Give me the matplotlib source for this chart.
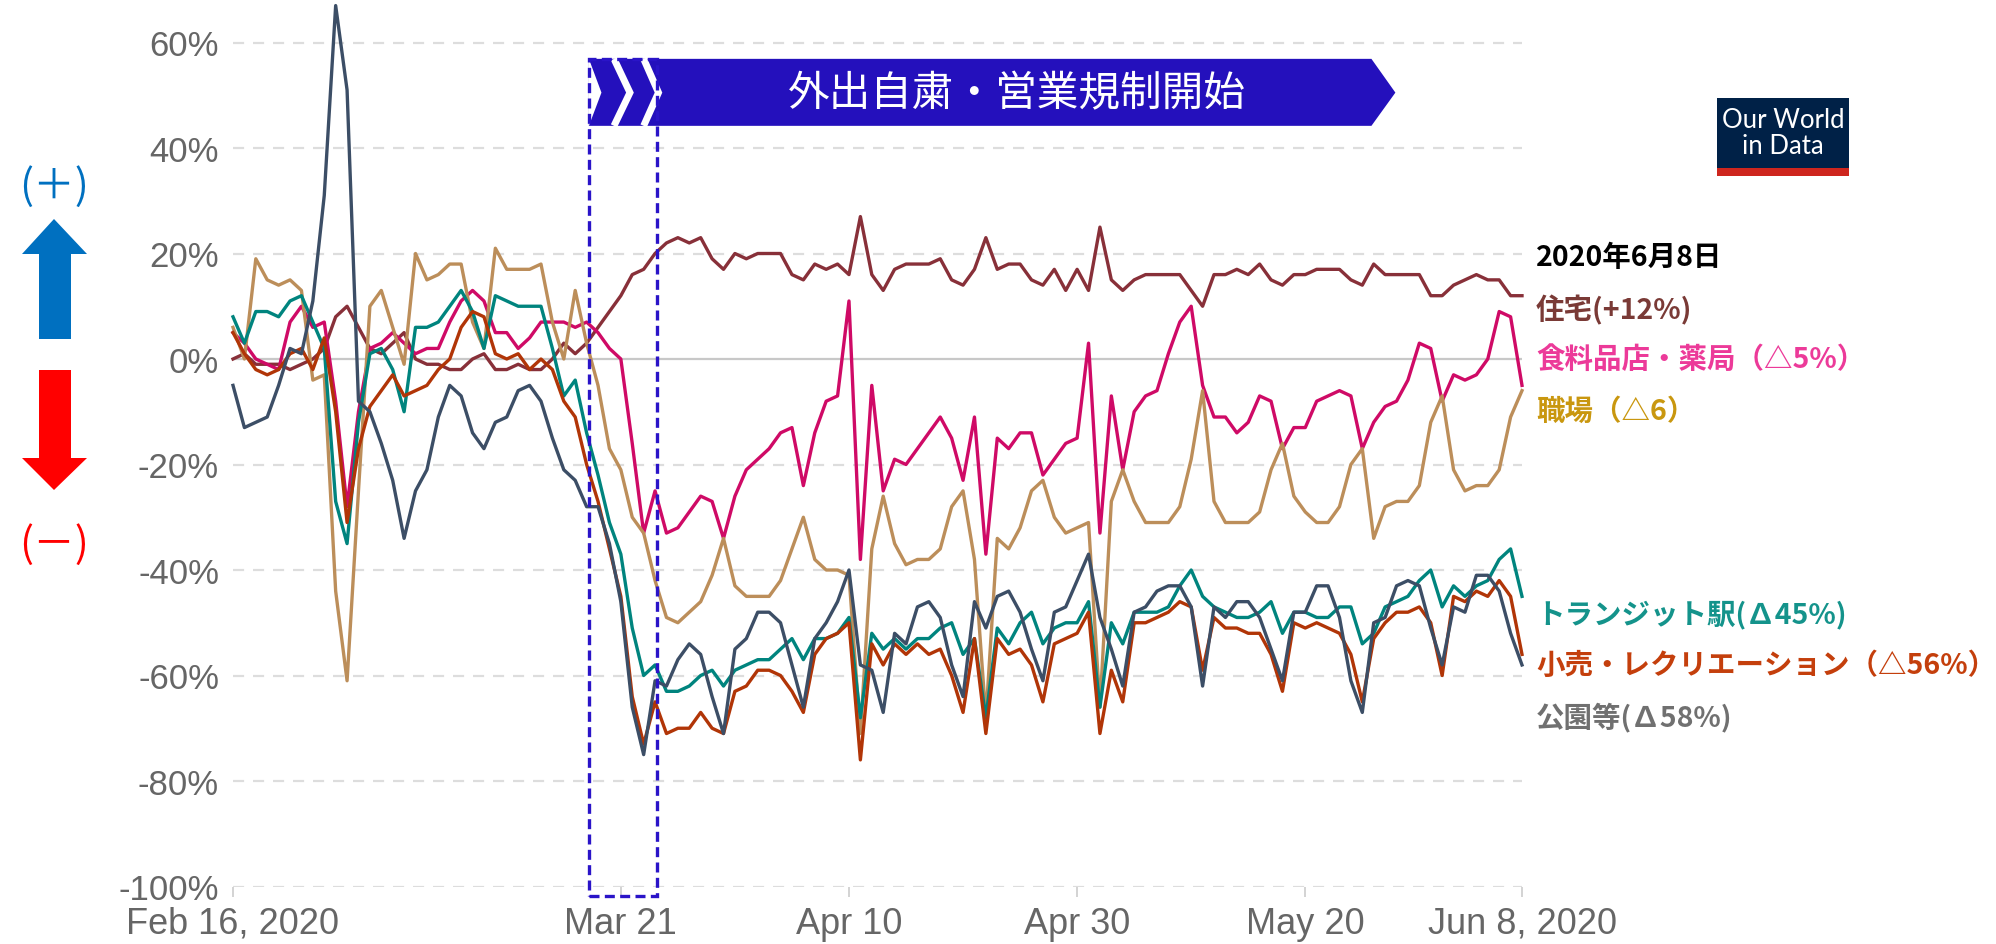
import numpy as np
import pandas as pd
import matplotlib
matplotlib.use('Agg')
import matplotlib.pyplot as plt
import matplotlib.dates as mdates
from matplotlib.patches import Polygon, Rectangle

plt.rcParams['font.family'] = ['Liberation Sans', 'Noto Sans CJK JP', 'DejaVu Sans']
JP = ['Noto Sans CJK JP', 'DejaVu Sans']

# ---------------- data (daily, Feb 16 - Jun 8, 2020) ----------------
dates = pd.date_range('2020-02-16', '2020-06-08', freq='D')

residential = [0, 1, -1, -1, -1, -2, -1, 0, 2, 8, 10,
               6, 2, 1, 3, 5, 0, -1, -1, -2, -2,
               0, 1, -2, -2, -1, -2, -2, 0, 3, 1,
               3, 6, 9, 12, 16, 17, 20, 22, 23, 22,
               23, 19, 17, 20, 19, 20, 20, 20, 16, 15,
               18, 17, 18, 16, 27, 16, 13, 17, 18, 18,
               18, 19, 15, 14, 17, 23, 17, 18, 18, 15,
               14, 17, 13, 17, 13, 25, 15, 13, 15, 16,
               16, 16, 16, 13, 10, 16, 16, 17, 16, 18,
               15, 14, 16, 16, 17, 17, 17, 15, 14, 18,
               16, 16, 16, 16, 12, 12, 14, 15, 16, 15,
               15, 12, 12]

grocery = [5, 3, 0, -1, -2, 7, 10, 6, 7, -8, -28,
           -10, 2, 3, 5, 3, 1, 2, 2, 7, 11,
           13, 11, 5, 5, 2, 4, 7, 7, 7, 6,
           7, 5, 2, 0, -16, -33, -25, -33, -32, -29,
           -26, -27, -34, -26, -21, -19, -17, -14, -13, -24,
           -14, -8, -7, 11, -38, -5, -25, -19, -20, -17,
           -14, -11, -15, -23, -11, -37, -15, -17, -14, -14,
           -22, -19, -16, -15, 3, -33, -7, -21, -10, -7,
           -6, 1, 7, 10, -5, -11, -11, -14, -12, -7,
           -8, -17, -13, -13, -8, -7, -6, -7, -17, -12,
           -9, -8, -4, 3, 2, -8, -3, -4, -3, 0,
           9, 8, -5]

workplace = [6, 0, 19, 15, 14, 15, 13, -4, -3, -44, -61,
             -25, 10, 13, 6, -1, 20, 15, 16, 18, 18,
             7, 2, 21, 17, 17, 17, 18, 7, 0, 13,
             3, -5, -17, -21, -30, -33, -42, -49, -50, -48,
             -46, -41, -34, -43, -45, -45, -45, -42, -36, -30,
             -38, -40, -40, -41, -71, -36, -26, -35, -39, -38,
             -38, -36, -28, -25, -38, -68, -34, -36, -32, -25,
             -23, -30, -33, -32, -31, -66, -27, -21, -27, -31,
             -31, -31, -28, -19, -6, -27, -31, -31, -31, -29,
             -21, -16, -26, -29, -31, -31, -28, -20, -17, -34,
             -28, -27, -27, -24, -12, -7, -21, -25, -24, -24,
             -21, -11, -6]

transit = [8, 3, 9, 9, 8, 11, 12, 7, 2, -27, -35,
           -12, 1, 2, -2, -10, 6, 6, 7, 10, 13,
           9, 2, 12, 11, 10, 10, 10, 2, -7, -4,
           -14, -22, -31, -37, -51, -60, -58, -63, -63, -62,
           -60, -59, -62, -59, -58, -57, -57, -55, -53, -57,
           -53, -53, -52, -49, -68, -52, -55, -53, -55, -53,
           -53, -51, -50, -56, -53, -68, -51, -54, -50, -48,
           -54, -51, -50, -50, -46, -66, -50, -54, -48, -48,
           -48, -47, -43, -40, -45, -47, -48, -49, -49, -48,
           -46, -52, -48, -48, -49, -49, -47, -47, -54, -52,
           -47, -46, -45, -42, -40, -47, -43, -45, -43, -42,
           -38, -36, -45]

retail = [5, 1, -2, -3, -2, 1, 2, -2, 4, -10, -31,
          -17, -9, -6, -3, -7, -6, -5, -2, 0, 6,
          9, 8, 1, 0, 1, -2, 0, -2, -8, -11,
          -20, -27, -36, -45, -64, -73, -65, -71, -70, -70,
          -67, -70, -71, -63, -62, -59, -59, -60, -63, -67,
          -56, -53, -52, -50, -76, -54, -58, -54, -56, -54,
          -56, -55, -60, -67, -53, -71, -53, -56, -55, -58,
          -65, -54, -53, -52, -48, -71, -59, -65, -50, -50,
          -49, -48, -46, -47, -59, -49, -51, -51, -52, -52,
          -56, -63, -50, -51, -50, -51, -52, -56, -65, -53,
          -50, -48, -48, -47, -50, -60, -45, -46, -44, -45,
          -42, -45, -56]

parks = [-5, -13, -12, -11, -5, 2, 1, 11, 31, 67, 51,
         -8, -10, -16, -23, -34, -25, -21, -11, -5, -7,
         -14, -17, -12, -11, -6, -5, -8, -15, -21, -23,
         -28, -28, -35, -46, -66, -75, -61, -62, -57, -54,
         -56, -64, -71, -55, -53, -48, -48, -50, -58, -66,
         -53, -50, -46, -40, -58, -59, -67, -52, -54, -47,
         -46, -49, -58, -64, -46, -51, -45, -44, -48, -55,
         -61, -48, -47, -42, -37, -49, -55, -62, -48, -47,
         -44, -43, -43, -47, -62, -47, -49, -46, -46, -49,
         -55, -61, -48, -48, -43, -43, -49, -61, -67, -50,
         -49, -43, -42, -43, -51, -58, -47, -48, -41, -41,
         -44, -52, -58]

series_names = ['住宅', '食料品店・薬局', '職場', 'トランジット駅', '小売・レクリエーション', '公園等']
series_vals = [residential, grocery, workplace, transit, retail, parks]
line_colors = ['#883039', '#CF0A66', '#BC8E5A', '#00847E', '#B13507', '#3C4E66']

label_texts = ['2020年6月8日', '住宅(+12%)', '食料品店・薬局（△5%）', '職場（△6）',
               'トランジット駅(∆45%)', '小売・レクリエーション（△56%）', '公園等(∆58%)']
label_colors = ['#000000', '#7A3A36', '#EC3A99', '#C9970F', '#14938B', '#C43F0C', '#707070']

tick_dates = ['2020-02-16', '2020-03-21', '2020-04-10', '2020-04-30', '2020-05-20', '2020-06-08']
tick_labels = ['Feb 16, 2020', 'Mar 21', 'Apr 10', 'Apr 30', 'May 20', 'Jun 8, 2020']
y_ticks = [-100, -80, -60, -40, -20, 0, 20, 40, 60]
y_labels = ['-100%', '-80%', '-60%', '-40%', '-20%', '0%', '20%', '40%', '60%']

banner_text = '外出自粛・営業規制開始'

# ---------------- figure / layout (pixel based) ----------------
W, H = 1996, 945
fig = plt.figure(figsize=(W / 100, H / 100), dpi=100)

ov = fig.add_axes([0, 0, 1, 1], zorder=0)
ov.set_xlim(0, W)
ov.set_ylim(H, 0)
ov.axis('off')

ax_l, ax_r = 233, 1522
y0_px, px_per = 360.0, 5.275
ymin, ymax = -100, 68
top_px = y0_px - ymax * px_per
bot_px = y0_px - ymin * px_per
ax = fig.add_axes([ax_l / W, 1 - bot_px / H, (ax_r - ax_l) / W, (bot_px - top_px) / H], zorder=1)
ax.patch.set_alpha(0)

for s in ax.spines.values():
    s.set_visible(False)

ax.set_ylim(ymin, ymax)
ax.set_xlim(dates[0], dates[-1])

for yv in y_ticks:
    if yv == 0:
        ax.axhline(0, color='#C8C8C8', lw=1.6, zorder=1)
    else:
        ax.axhline(yv, color='#DDDDDD', lw=1.6, dashes=(5, 4), zorder=1)

for vals, c in zip(series_vals, line_colors):
    ax.plot(dates, vals, color=c, lw=2.4, zorder=3, clip_on=False)

ax.set_yticks(y_ticks)
ax.set_yticklabels(y_labels)
ax.set_xticks(pd.to_datetime(tick_dates))
ax.set_xticklabels(tick_labels)
ax.tick_params(axis='y', length=0, pad=10, labelsize=25, labelcolor='#666666')
ax.tick_params(axis='x', length=7, width=1.2, color='#CCCCCC', pad=7, labelsize=26, labelcolor='#666666')

# ---------------- banner + dashed box (data coords) ----------------
base = mdates.date2num(dates[0])
def xd(d):
    return base + d

BANNER = '#2410BC'
b_top, b_bot, b_mid = 56.9, 44.2, 50.5
ax.add_patch(Polygon([(xd(31.2), b_top), (xd(99.8), b_top), (xd(101.9), b_mid),
                      (xd(99.8), b_bot), (xd(31.2), b_bot)], closed=True,
                     fc=BANNER, ec='none', zorder=5, clip_on=False))
ax.add_patch(Polygon([(xd(31.2), b_top), (xd(32.3), b_mid), (xd(31.2), b_bot)], closed=True,
                     fc='white', ec='none', zorder=5.5, clip_on=False))
for x0, x1 in [(33.4, 34.8), (36.0, 37.3)]:
    ax.plot([xd(x0), xd(x1), xd(x0)], [b_top, b_mid, b_bot], color='white', lw=5,
            solid_joinstyle='miter', solid_capstyle='butt', zorder=6, clip_on=False)
ax.add_patch(Rectangle((xd(31.2), -101.8), 6.0, b_top + 101.8, fill=False, ec='#2A14C8',
                       lw=2.4, ls=(0, (3, 1.6)), zorder=7, clip_on=False))
ax.text(xd(68.7), 50.3, banner_text, color='white', fontsize=30, ha='center', va='center',
        family=JP, zorder=8)

# ---------------- right-hand labels ----------------
label_y = [258, 310, 360, 412, 615, 666, 717]
for t, c, yy in zip(label_texts, label_colors, label_y):
    ov.text(1536, yy, t, color=c, fontsize=20.5, fontweight='bold', ha='left', va='center', family=JP)

# ---------------- OWID logo ----------------
ov.add_patch(Rectangle((1717, 99), 132, 70, fc='#002147', ec='none'))
ov.add_patch(Rectangle((1717, 169), 132, 8, fc='#CE261E', ec='none'))
ov.text(1783, 121, 'Our World', color='white', fontsize=18.5, ha='center', va='center', family='Lato')
ov.text(1783, 147, 'in Data', color='white', fontsize=18.5, ha='center', va='center', family='Lato')

# ---------------- left +/- indicators ----------------
ov.add_patch(Polygon([(54, 220), (87, 255), (71, 255), (71, 340), (39, 340), (39, 255), (22, 255)],
                     closed=True, fc='#0070C0', ec='none'))
ov.add_patch(Polygon([(39, 371), (71, 371), (71, 459), (87, 459), (54, 491), (22, 459), (39, 459)],
                     closed=True, fc='#FF0000', ec='none'))
ov.text(54, 187, '(＋)', color='#0070C0', fontsize=30, ha='center', va='center', family=JP)
ov.text(54, 545, '(－)', color='#FF0000', fontsize=30, ha='center', va='center', family=JP)

fig.savefig('out.png', dpi=100)
